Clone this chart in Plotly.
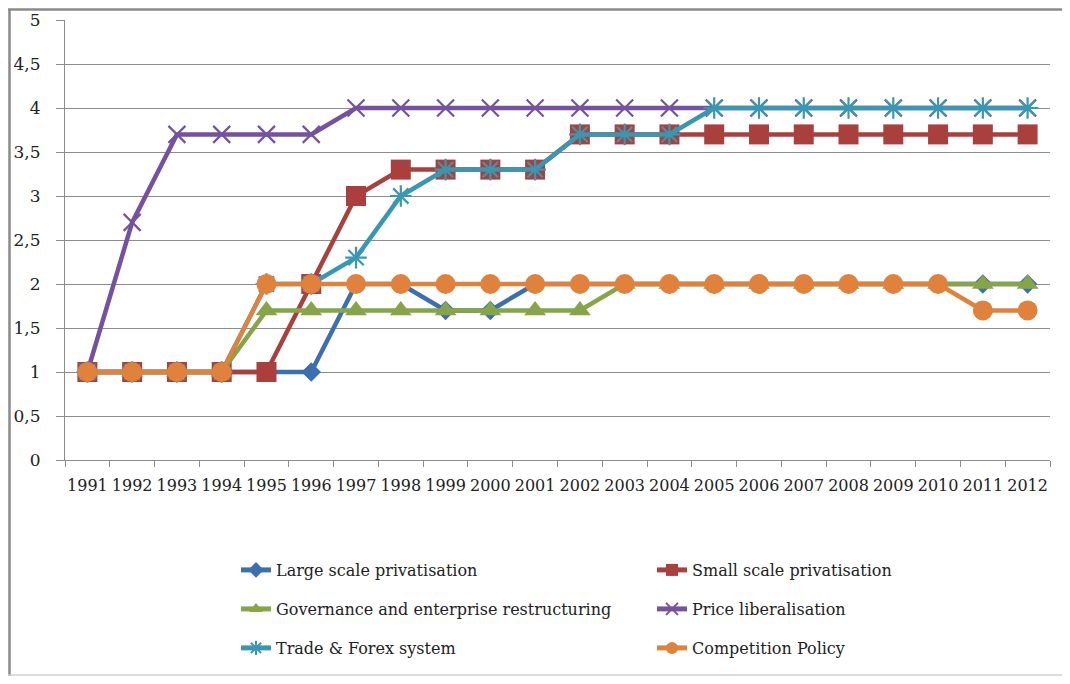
import plotly.graph_objects as go

years = [str(y) for y in range(1991, 2013)]

large_scale = [1, 1, 1, 1, 1, 1, 2, 2, 1.7, 1.7, 2, 2, 2, 2, 2, 2, 2, 2, 2, 2, 2, 2]
small_scale = [1, 1, 1, 1, 1, 2, 3, 3.3, 3.3, 3.3, 3.3, 3.7, 3.7, 3.7, 3.7, 3.7, 3.7, 3.7, 3.7, 3.7, 3.7, 3.7]
governance = [1, 1, 1, 1, 1.7, 1.7, 1.7, 1.7, 1.7, 1.7, 1.7, 1.7, 2, 2, 2, 2, 2, 2, 2, 2, 2, 2]
price_lib = [1, 2.7, 3.7, 3.7, 3.7, 3.7, 4, 4, 4, 4, 4, 4, 4, 4, 4, 4, 4, 4, 4, 4, 4, 4]
trade_forex = [1, 1, 1, 1, 2, 2, 2.3, 3, 3.3, 3.3, 3.3, 3.7, 3.7, 3.7, 4, 4, 4, 4, 4, 4, 4, 4]
competition = [1, 1, 1, 1, 2, 2, 2, 2, 2, 2, 2, 2, 2, 2, 2, 2, 2, 2, 2, 2, 1.7, 1.7]

series_names = [
    "Large scale privatisation",
    "Small scale privatisation",
    "Governance and enterprise restructuring",
    "Price liberalisation",
    "Trade & Forex system",
    "Competition Policy",
]
series_values = [large_scale, small_scale, governance, price_lib, trade_forex, competition]
colors = ["#3B6FB0", "#A9403E", "#86A548", "#7452A0", "#3A97B1", "#E0823C"]
markers = [
    dict(symbol="diamond", size=15),
    dict(symbol="square", size=20),
    dict(symbol="triangle-up", size=19),
    dict(symbol="x-thin-open", size=17, line=dict(width=2.2)),
    dict(symbol="asterisk-open", size=18, line=dict(width=2.2)),
    dict(symbol="circle", size=20),
]
legend_ids = ["legend", "legend", "legend2", "legend2", "legend3", "legend3"]

fig = go.Figure()
for name, vals, col, mk, lg in zip(series_names, series_values, colors, markers, legend_ids):
    m = dict(mk)
    m["color"] = col
    if "line" in m:
        m["line"] = dict(m["line"], color=col)
    fig.add_trace(go.Scatter(
        x=years, y=vals, name=name, mode="lines+markers",
        line=dict(color=col, width=4.5),
        marker=m, legend=lg,
    ))

grid = "#8C8C8C"
OFF = 8  # page body margin offset
W, H = 1070 - 2 * OFF, 684 - 2 * OFF
# plot area in page pixels: x 65..1050, y 20..460
ml = 65 - OFF
mr = W - (1050 - OFF)
mt = 20 - OFF
mb = H - (460 - OFF)
pw, ph = W - ml - mr, H - mt - mb


def px_x(p):
    return (p - OFF - ml) / pw


def px_y(p):
    return (H - mb - (p - OFF)) / ph


legend_common = dict(
    orientation="h", entrywidth=371, entrywidthmode="pixels",
    xanchor="left", yanchor="middle", x=px_x(236),
    font=dict(family="DejaVu Serif", size=16, color="#222222"),
    bgcolor="rgba(0,0,0,0)", itemsizing="constant", traceorder="normal",
)

fig.update_layout(
    width=W, height=H,
    margin=dict(l=ml, r=mr, t=mt, b=mb, autoexpand=False),
    paper_bgcolor="white", plot_bgcolor="white",
    separators=",.",
    legend=dict(legend_common, y=px_y(570)),
    legend2=dict(legend_common, y=px_y(609)),
    legend3=dict(legend_common, y=px_y(648)),
    xaxis=dict(
        type="category", range=[-0.5, 21.5], automargin=False,
        tickson="boundaries", ticks="outside", ticklen=6, tickcolor=grid,
        showline=True, linecolor=grid, linewidth=1, showgrid=False,
        tickangle=0,
        tickfont=dict(family="DejaVu Serif", size=16, color="#222222"),
        ticklabelstandoff=11,
    ),
    yaxis=dict(
        range=[0, 5], dtick=0.5, tick0=0, automargin=False,
        ticks="outside", ticklen=8, tickcolor=grid,
        showline=True, linecolor=grid, linewidth=1,
        showgrid=True, gridcolor=grid, gridwidth=1, zeroline=False,
        tickfont=dict(family="DejaVu Serif", size=17, color="#222222"),
        ticklabelstandoff=12,
    ),
    shapes=[
        dict(type="line", xref="paper", yref="paper",
             x0=px_x(9.5), x1=px_x(9.5), y0=px_y(680), y1=px_y(9),
             line=dict(color="#8A8A8A", width=2.5)),
        dict(type="line", xref="paper", yref="paper",
             x0=px_x(8), x1=px_x(1070), y0=px_y(9.5), y1=px_y(9.5),
             line=dict(color="#8A8A8A", width=2.5)),
        dict(type="line", xref="paper", yref="paper",
             x0=px_x(8), x1=px_x(1070), y0=px_y(675), y1=px_y(675),
             line=dict(color="#D0D0D0", width=1.5)),
    ],
)

fig.write_html("out.html")
